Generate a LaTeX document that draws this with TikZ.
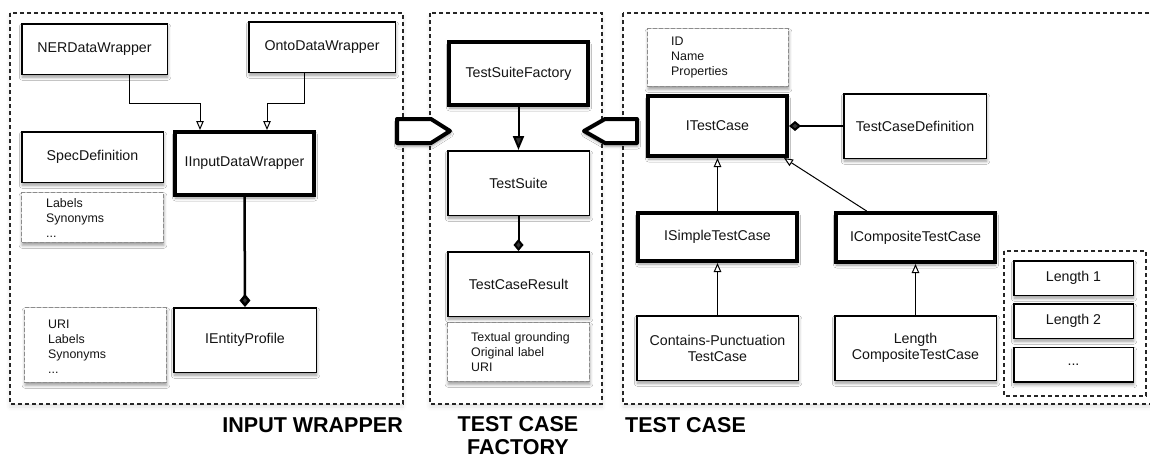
\documentclass[tikz,border=0pt]{standalone}
\usepackage{fontspec}
\setmainfont{Liberation Sans}
\usetikzlibrary{arrows.meta,calc,shadows.blur}
\begin{document}
\begin{tikzpicture}[x=1pt,y=-1pt,
  every node/.style={font=\fontsize{14.2}{17}\selectfont, text=black!92},
  shad/.style={blur shadow={shadow xshift=0.5pt, shadow yshift=-3pt, shadow blur radius=3pt, shadow opacity=40}},
  gshad/.style={blur shadow={shadow xshift=0pt, shadow yshift=-3pt, shadow blur radius=4pt, shadow opacity=12}},
  cls/.style={draw=black, line width=1.5pt, fill=white, shad, inner sep=0pt, align=center},
  icls/.style={cls, line width=4pt},
  noteframe/.style={draw=black!45, dash pattern=on 4pt off 2pt, line width=1.3pt, fill=white, shad, inner sep=0pt},
  notetext/.style={font=\fontsize{12.4}{15}\selectfont, align=left, inner sep=0pt, anchor=west, text width=115},
  group/.style={draw=black!85, dash pattern=on 4pt off 3pt, line width=1.1pt, fill=white},
  title/.style={font=\bfseries\fontsize{21.5}{23.5}\selectfont, text=black, inner sep=0pt},
  gen/.style={line width=1pt, -{Triangle[open, length=9pt, width=7.5pt, fill=white]}},
  comp/.style={line width=2pt, -{Diamond[length=12pt, width=10pt]}},
  pent/.style={draw=black, line width=4pt, fill=white, line join=round, shad},
]
\clip (0,0) rectangle (1150,458);
\useasboundingbox (0,0) rectangle (1150,458);

% groups
\path[group, gshad] (10,13) rectangle (403,404);
\path[group, gshad] (430,13) rectangle (602,404);
\path[group, gshad] (623,13) rectangle (1160,404);

% pentagon arrows
\path[pent] (397,119) -- (431,119) -- (450,131) -- (431,143) -- (397,143) -- cycle;
\path[pent] (637,119) -- (605,119) -- (584,131) -- (605,143) -- (637,143) -- cycle;

% INPUT WRAPPER
\node[cls, minimum width=145.5, minimum height=50.5] (ner) at (94.5,49) {NERDataWrapper};
\node[cls, minimum width=146.5, minimum height=50.5] (onto) at (322,47) {OntoDataWrapper};
\node[cls, minimum width=141.5, minimum height=50.5] (spec) at (92.5,157) {SpecDefinition};
\node[icls, minimum width=139, minimum height=63] (iidw) at (244.5,163.5) {IInputDataWrapper};
\node[noteframe, minimum width=141.7, minimum height=49.7] (labn) at (92.5,217.5) {};
\node[notetext] (labt) at (46,218.5) {Labels\\Synonyms\\...};
\node[cls, minimum width=142.5, minimum height=64.5] (ient) at (245,340) {IEntityProfile};
\node[noteframe, minimum width=141.7, minimum height=74.7] (urin) at (95.5,345) {};
\node[notetext] (urit) at (48,346.5) {URI\\Labels\\Synonyms\\...};

% TEST CASE FACTORY
\node[icls, minimum width=139, minimum height=63] (tsf) at (518.5,73.5) {TestSuiteFactory};
\node[cls, minimum width=141.5, minimum height=64.5] (ts) at (518.5,183) {TestSuite};
\node[cls, minimum width=141.5, minimum height=64.5] (tcr) at (518.5,284) {TestCaseResult};
\node[noteframe, minimum width=141.7, minimum height=58.7] (tgn) at (518.5,352) {};
\node[notetext] (tgt) at (471,352.5) {Textual grounding\\Original label\\URI};

% TEST CASE
\node[noteframe, minimum width=140.7, minimum height=57.7] (idn) at (718,57.5) {};
\node[notetext] (idt) at (671,58) {ID\\Name\\Properties};
\node[icls, minimum width=139, minimum height=60] (itc) at (717.5,126) {ITestCase};
\node[cls, minimum width=142.5, minimum height=64.5] (tcd) at (915,126) {TestCaseDefinition};
\node[icls, minimum width=159, minimum height=48] (istc) at (717.5,237) {ISimpleTestCase};
\node[icls, minimum width=159, minimum height=49] (ictc) at (915.5,237.5) {ICompositeTestCase};
\node[cls, minimum width=161.5, minimum height=64.5] (cp) at (717.5,348) {Contains-Punctuation\\[-1pt]TestCase};
\node[cls, minimum width=161.5, minimum height=64.5] (lct) at (915.5,348) {Length\\[-1pt]CompositeTestCase};
\path[group] (1004,251) rectangle (1146,396);
\node[cls, minimum width=119.5, minimum height=34.5] (l1) at (1073.5,278) {Length 1};
\node[cls, minimum width=119.5, minimum height=34.5] (l2) at (1073.5,321) {Length 2};
\node[cls, minimum width=119.5, minimum height=34.5] (l3) at (1073.5,364.5) {...};

% connectors
\draw[gen] ([xshift=34.5pt]ner.south) |- ($([xshift=-44.5pt]iidw.north)+(0,-27)$) -- ([xshift=-44.5pt]iidw.north);
\draw[gen] ([xshift=-18pt]onto.south) |- ($([xshift=22.5pt]iidw.north)+(0,-27)$) -- ([xshift=22.5pt]iidw.north);
\draw[comp, line width=2.5pt, -{Diamond[length=13pt, width=11pt]}] (iidw.south) -- (ient.north);

\draw[line width=2pt, -{Triangle[length=14pt, width=11pt]}] (tsf.south) -- (ts.north);
\draw[comp] (ts.south) -- (tcr.north);

\draw[comp] (tcd.west) -- (itc.east);
\draw[gen] (istc.north) -- (itc.south);
\draw[gen] ($(ictc.north west)!0.2!(ictc.north east)$) -- ($(itc.south east)+(-5,0)$);
\draw[gen] (cp.north) -- (istc.south);
\draw[gen] (lct.north) -- (ictc.south);

% titles
\node[title, anchor=east] (t1) at (403,425) {INPUT WRAPPER};
\node[title, align=center] (t2) at (518,435.5) {TEST CASE\\FACTORY};
\node[title, anchor=west] (t3) at (625,425) {TEST CASE};
\end{tikzpicture}
\end{document}
